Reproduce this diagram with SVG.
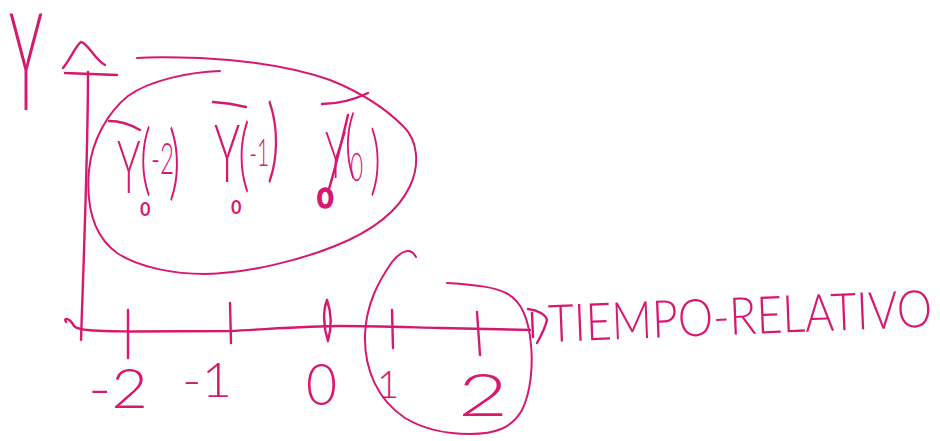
<svg xmlns="http://www.w3.org/2000/svg" width="940" height="441" viewBox="0 0 940 441">
<style>
.s{fill:none;stroke:#d6196f;stroke-width:2.4;stroke-linecap:round;stroke-linejoin:round}
.thin{stroke-width:2}
.t{fill:#d6196f;font-family:Lato,Roboto,"Liberation Sans",sans-serif;font-weight:300}
.sub{font-size:18px;font-weight:700}
</style>
<rect width="940" height="441" fill="#ffffff"/>
<g id="y-axis-label">
<text class="t" x="9" y="110" font-size="136" textLength="34" lengthAdjust="spacingAndGlyphs">Y</text>
</g>
<g id="connectors">
<path class="s" d="M88,72 C88,150 84,250 81,340"/>
<path class="s" d="M63,68 C70,60 76,45 81,42 C87,42 95,60 105,65"/>
<path class="s" d="M65,73 L117,75"/>
<path class="s" d="M66,322 C63,317 70,318 74,326 C78,331 100,331 130,331.5 L230,331 C270,329 310,326 340,326 C370,326 400,327 440,328 L530,330"/>
<path class="s" d="M528,309 C538,310 546,315 547,320 C545,328 541,336 537,343"/>
<path class="s" d="M532,313 L533,337"/>
</g>
<g id="ticks">
<path class="s" d="M128,310 L128,358"/>
<path class="s" d="M230,303 L231,343"/>
<path class="s" d="M327,300 C323,310 323,326 328,341 C331,330 332,314 327,300"/>
<path class="s" d="M392,310 L393,348"/>
<path class="s" d="M477,312 L480,355"/>
<text class="t" x="88" y="408" font-size="56" textLength="60" lengthAdjust="spacingAndGlyphs">-2</text>
<text class="t" x="182" y="397" font-size="48" textLength="50" lengthAdjust="spacingAndGlyphs">-1</text>
<text class="t" x="306" y="405" font-size="58" textLength="31" lengthAdjust="spacingAndGlyphs">0</text>
<text class="t" x="377" y="398" font-size="38">1</text>
<text class="t" x="458" y="416" font-size="60" textLength="50" lengthAdjust="spacingAndGlyphs">2</text>
</g>
<g id="axis-title">
<text class="t" x="549" y="342" font-size="52" textLength="384" lengthAdjust="spacingAndGlyphs" transform="rotate(-2.3 549 342)">TIEMPO-RELATIVO</text>
</g>
<g id="pre-period-group">
<path class="s thin" d="M220,71 C190,72 150,80 128,96 C108,112 92,140 89,170 C86,205 92,235 117,253 C140,268 175,274 205,274 C250,273 300,260 335,246 C370,232 398,212 410,186 C420,165 418,140 403,126 C385,108 360,92 330,80 C290,66 240,60 200,58 C170,57 150,57 137,58"/>
</g>
<g id="post-period-group">
<path class="s thin" d="M416,257 C410,246 400,252 392,262 C378,282 366,305 365,335 C364,370 378,400 405,418 C425,430 450,434 470,434 C495,434 512,428 522,410 C531,392 533,365 531,345 C529,320 522,302 508,294 C495,287 478,285 447,283"/>
</g>
<g id="node-y-minus2">
<path class="s" d="M109,121 Q125,121 140,130"/>
<text class="t" transform="translate(117,0) scale(0.55,1)"><tspan x="0" y="193" font-size="72">Y</tspan><tspan x="42" y="186" font-size="78">(</tspan><tspan x="62" y="174" font-size="44">-2</tspan><tspan x="94" y="190" font-size="82">)</tspan></text>
<text class="t sub" x="140" y="216">0</text>
</g>
<g id="node-y-minus1">
<path class="s" d="M213,102 Q230,103 246,107"/>
<text class="t" transform="translate(214,0) scale(0.55,1)"><tspan x="0" y="182" font-size="80">Y</tspan><tspan x="44" y="182" font-size="80">(</tspan><tspan x="64" y="166" font-size="38">-1</tspan><tspan x="96" y="171" font-size="92">)</tspan></text>
<text class="t sub" x="231" y="214">0</text>
</g>
<g id="node-y-0">
<path class="s" d="M322,104 Q345,104 368,93"/>
<path class="s" d="M348,115 C342,140 335,170 328,192"/>
<text class="t" transform="translate(325,0) scale(0.55,1)"><tspan x="0" y="178" font-size="65">Y</tspan><tspan x="36" y="169" font-size="75">(</tspan><tspan x="46" y="181" font-size="40">0</tspan><tspan x="82" y="186" font-size="76">)</tspan></text>
<text class="t" x="318" y="207" font-size="25" stroke="#d6196f" stroke-width="3.5" stroke-linejoin="round">0</text>
</g>
</svg>
